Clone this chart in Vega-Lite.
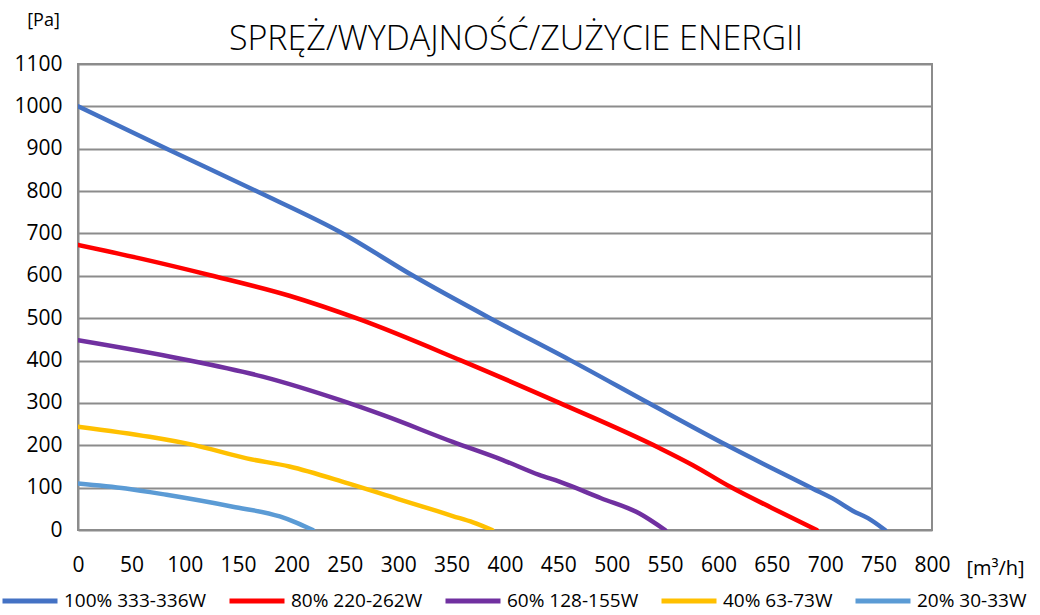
{
  "$schema": "https://vega.github.io/schema/vega-lite/v6.json",
  "autosize": {"type": "none"},
  "padding": {"left": 78, "top": 64, "right": 108, "bottom": 85},
  "width": 854,
  "height": 466,
  "background": "white",
  "title": {
    "text": "SPRĘŻ/WYDAJNOŚĆ/ZUŻYCIE ENERGII",
    "font": "Open Sans",
    "fontSize": 34,
    "fontWeight": 300,
    "color": "#000000",
    "anchor": "middle",
    "dx": 11,
    "dy": 46,
    "offset": 0
  },
  "config": {
    "view": {"stroke": "#8C8C8C", "strokeWidth": 2},
    "font": "Open Sans"
  },
  "data": {
    "values": [
      {"x": 0, "p": 1000, "s": "100% 333-336W"},
      {"x": 83, "p": 900, "s": "100% 333-336W"},
      {"x": 167, "p": 800, "s": "100% 333-336W"},
      {"x": 248, "p": 700, "s": "100% 333-336W"},
      {"x": 314, "p": 600, "s": "100% 333-336W"},
      {"x": 386, "p": 500, "s": "100% 333-336W"},
      {"x": 461, "p": 401, "s": "100% 333-336W"},
      {"x": 535, "p": 299, "s": "100% 333-336W"},
      {"x": 607, "p": 201, "s": "100% 333-336W"},
      {"x": 688, "p": 98, "s": "100% 333-336W"},
      {"x": 710, "p": 70, "s": "100% 333-336W"},
      {"x": 726, "p": 45, "s": "100% 333-336W"},
      {"x": 740, "p": 28, "s": "100% 333-336W"},
      {"x": 756, "p": 0, "s": "100% 333-336W"},

      {"x": 0, "p": 673, "s": "80% 220-262W"},
      {"x": 60, "p": 640, "s": "80% 220-262W"},
      {"x": 123, "p": 602, "s": "80% 220-262W"},
      {"x": 198, "p": 553, "s": "80% 220-262W"},
      {"x": 264, "p": 497, "s": "80% 220-262W"},
      {"x": 358, "p": 401, "s": "80% 220-262W"},
      {"x": 451, "p": 300, "s": "80% 220-262W"},
      {"x": 545, "p": 193, "s": "80% 220-262W"},
      {"x": 576, "p": 153, "s": "80% 220-262W"},
      {"x": 611, "p": 102, "s": "80% 220-262W"},
      {"x": 650, "p": 52, "s": "80% 220-262W"},
      {"x": 692, "p": 0, "s": "80% 220-262W"},

      {"x": 0, "p": 448, "s": "60% 128-155W"},
      {"x": 95, "p": 405, "s": "60% 128-155W"},
      {"x": 173, "p": 362, "s": "60% 128-155W"},
      {"x": 245, "p": 307, "s": "60% 128-155W"},
      {"x": 286, "p": 271, "s": "60% 128-155W"},
      {"x": 351, "p": 208, "s": "60% 128-155W"},
      {"x": 398, "p": 165, "s": "60% 128-155W"},
      {"x": 432, "p": 130, "s": "60% 128-155W"},
      {"x": 451, "p": 114, "s": "60% 128-155W"},
      {"x": 490, "p": 75, "s": "60% 128-155W"},
      {"x": 526, "p": 39, "s": "60% 128-155W"},
      {"x": 550, "p": 0, "s": "60% 128-155W"},

      {"x": 0, "p": 244, "s": "40% 63-73W"},
      {"x": 67, "p": 220, "s": "40% 63-73W"},
      {"x": 108, "p": 201, "s": "40% 63-73W"},
      {"x": 158, "p": 169, "s": "40% 63-73W"},
      {"x": 198, "p": 150, "s": "40% 63-73W"},
      {"x": 253, "p": 110, "s": "40% 63-73W"},
      {"x": 300, "p": 73, "s": "40% 63-73W"},
      {"x": 336, "p": 45, "s": "40% 63-73W"},
      {"x": 351, "p": 33, "s": "40% 63-73W"},
      {"x": 370, "p": 18, "s": "40% 63-73W"},
      {"x": 388, "p": 0, "s": "40% 63-73W"},

      {"x": 0, "p": 110, "s": "20% 30-33W"},
      {"x": 45, "p": 98, "s": "20% 30-33W"},
      {"x": 83, "p": 83, "s": "20% 30-33W"},
      {"x": 145, "p": 55, "s": "20% 30-33W"},
      {"x": 189, "p": 32, "s": "20% 30-33W"},
      {"x": 205, "p": 17, "s": "20% 30-33W"},
      {"x": 220, "p": 0, "s": "20% 30-33W"}
    ]
  },
  "mark": {"type": "line", "strokeWidth": 4.5, "interpolate": "monotone", "strokeCap": "round", "clip": true},
  "encoding": {
    "x": {
      "field": "x",
      "type": "quantitative",
      "scale": {"domain": [0, 800], "nice": false, "zero": true},
      "axis": {
        "values": [0, 50, 100, 150, 200, 250, 300, 350, 400, 450, 500, 550, 600, 650, 700, 750, 800],
        "format": "d",
        "grid": false,
        "ticks": false,
        "tickSize": 0,
        "domain": false,
        "labelFont": "Open Sans",
        "labelFontSize": 21,
        "labelColor": "#000000",
        "labelPadding": 24,
        "labelFlush": false,
        "labelOverlap": false,
        "title": "[m³/h]",
        "titleFont": "Open Sans",
        "titleFontSize": 20,
        "titleFontWeight": "normal",
        "titleColor": "#000000",
        "titleX": 917,
        "titleY": 38,
        "titleAlign": "center",
        "titleBaseline": "middle"
      }
    },
    "y": {
      "field": "p",
      "type": "quantitative",
      "scale": {"domain": [0, 1100], "nice": false},
      "axis": {
        "values": [0, 100, 200, 300, 400, 500, 600, 700, 800, 900, 1000, 1100],
        "format": "d",
        "grid": true,
        "gridColor": "#8C8C8C",
        "gridWidth": 2,
        "ticks": false,
        "tickSize": 0,
        "domain": true,
        "domainColor": "#8C8C8C",
        "domainWidth": 2,
        "labelFont": "Open Sans",
        "labelFontSize": 21,
        "labelColor": "#000000",
        "labelPadding": 16,
        "labelFlush": false,
        "labelOverlap": false,
        "title": "[Pa]",
        "titleAngle": 0,
        "titleFont": "Open Sans",
        "titleFontSize": 18,
        "titleFontWeight": "normal",
        "titleColor": "#000000",
        "titleX": -35,
        "titleY": -44,
        "titleAlign": "center",
        "titleBaseline": "middle"
      }
    },
    "color": {
      "field": "s",
      "type": "nominal",
      "scale": {
        "domain": ["100% 333-336W", "80% 220-262W", "60% 128-155W", "40% 63-73W", "20% 30-33W"],
        "range": ["#4472C4", "#FF0000", "#7030A0", "#FFC000", "#5B9BD5"]
      },
      "legend": {
        "title": null,
        "orient": "none",
        "direction": "horizontal",
        "legendX": -78,
        "legendY": 507,
        "symbolType": "stroke",
        "symbolSize": 3025,
        "symbolStrokeWidth": 5,
        "labelFont": "Open Sans",
        "labelFontSize": 19,
        "labelColor": "#000000",
        "labelOffset": 4,
        "columnPadding": 12,
        "labelLimit": 400
      }
    },
    "order": {"field": "x", "type": "quantitative"}
  }
}
